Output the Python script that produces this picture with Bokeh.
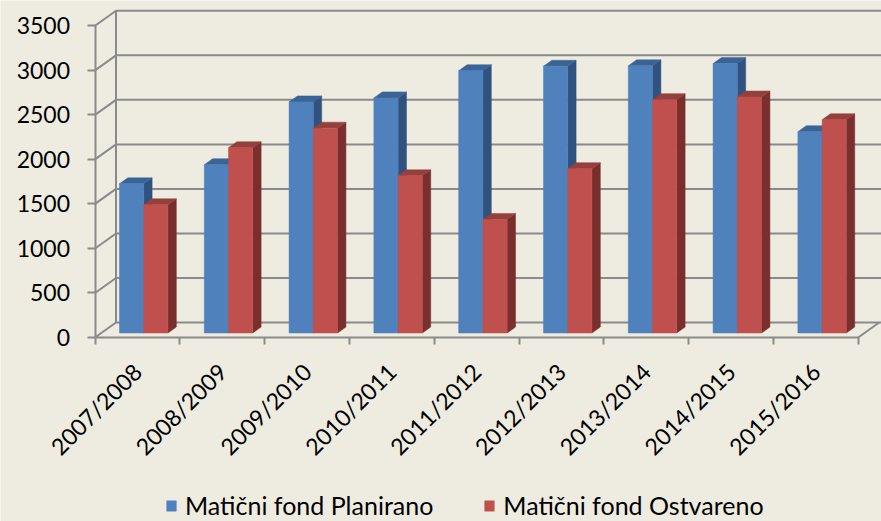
import math
from bokeh.plotting import figure
from bokeh.models import FixedTicker, Legend, LegendItem, Range1d, LinearAxis
from bokeh.embed import file_html
from bokeh.resources import INLINE

# ---------------- data ----------------
categories = ["2007/2008", "2008/2009", "2009/2010", "2010/2011", "2011/2012",
              "2012/2013", "2013/2014", "2014/2015", "2015/2016"]
planirano = [1675, 1890, 2595, 2640, 2945, 2995, 3000, 3025, 2260]
ostvareno = [1440, 2080, 2300, 1765, 1275, 1845, 2620, 2650, 2395]
y_ticks = [0, 500, 1000, 1500, 2000, 2500, 3000, 3500]
series_names = ["Matični fond Planirano", "Matični fond Ostvareno"]

# ---------------- layout / style constants ----------------
W, H = 881, 521
X0_PX = 94.5              # px of front-left corner (x = 0)
Y0_PX = 337.0             # px (from top) of front floor line (value 0)
PX_PER_CAT = 84.8         # px per category on the front plane
PX_PER_UNIT = 0.08906     # px per value unit
DX = 21 / PX_PER_CAT      # depth offset of back wall in x data units
DY = 15 / PX_PER_UNIT     # depth offset of back wall in y data units
D0, D1 = 0.3, 0.7         # bar depth (front, back) fraction
BW = 1 / 3.5              # bar width per category

BG = "#EEECE1"
GRID = "#8A8A8A"
FONT = "Lato"
COLORS = {
    "front": ["#4F81BD", "#C0504D"],
    "side": ["#30527F", "#7B2F2D"],
    "top": ["#3B6496", "#94403D"],
}

n = len(categories)
x_start = -X0_PX / PX_PER_CAT
x_end = (W - X0_PX) / PX_PER_CAT
y_end = Y0_PX / PX_PER_UNIT
y_start = -(H - Y0_PX) / PX_PER_UNIT

p = figure(width=W, height=H, output_backend="svg", toolbar_location=None,
           x_range=Range1d(x_start, x_end), y_range=Range1d(y_start, y_end),
           min_border=0, x_axis_location=None, y_axis_location=None)
p.background_fill_color = BG
p.border_fill_color = BG
p.outline_line_color = None
p.grid.visible = False

# ---------------- 3D walls / grid ----------------
top_tick = y_ticks[-1]
for v in y_ticks:
    p.line([0, DX, n + DX + 1], [v, v + DY, v + DY], line_color=GRID, line_width=2)
p.line([DX, DX], [DY, top_tick + DY], line_color=GRID, line_width=2)
p.line([n, n + DX], [0, DY], line_color=GRID, line_width=2)

# ---------------- bars ----------------
legend_renderers = []
for s, vals in enumerate([planirano, ostvareno]):
    x0s, x1s, tops, bots = [], [], [], []
    side_xs, side_ys, top_xs, top_ys = [], [], [], []
    for i, v in enumerate(vals):
        c = i + 0.5
        x0 = c - BW + s * BW
        x1 = x0 + BW
        x0s.append(x0 + D0 * DX)
        x1s.append(x1 + D0 * DX)
        bots.append(D0 * DY)
        tops.append(v + D0 * DY)
        side_xs.append([x1 + D0 * DX, x1 + D1 * DX, x1 + D1 * DX, x1 + D0 * DX])
        side_ys.append([D0 * DY, D1 * DY, v + D1 * DY, v + D0 * DY])
        top_xs.append([x0 + D0 * DX, x1 + D0 * DX, x1 + D1 * DX, x0 + D1 * DX])
        top_ys.append([v + D0 * DY, v + D0 * DY, v + D1 * DY, v + D1 * DY])
    p.patches(side_xs, side_ys, fill_color=COLORS["side"][s], line_color=COLORS["side"][s], line_width=0.5)
    p.patches(top_xs, top_ys, fill_color=COLORS["top"][s], line_color=COLORS["top"][s], line_width=0.5)
    r = p.quad(left=x0s, right=x1s, bottom=bots, top=tops,
               fill_color=COLORS["front"][s], line_color=COLORS["front"][s], line_width=0.5)
    legend_renderers.append(r)

# ---------------- axes ----------------
yax = LinearAxis(ticker=FixedTicker(ticks=y_ticks), bounds=(0, top_tick), fixed_location=0)
yax.axis_line_color = GRID
yax.axis_line_width = 2
yax.major_tick_line_color = GRID
yax.major_tick_line_width = 2
yax.major_tick_out = 8
yax.major_tick_in = 0
yax.minor_tick_line_color = None
yax.major_label_standoff = 17
yax.major_label_text_font = FONT
yax.major_label_text_font_size = "23px"
yax.major_label_text_color = "#000000"
p.add_layout(yax, "left")

centers = [i + 0.5 for i in range(n)]
xax = LinearAxis(ticker=FixedTicker(ticks=centers, minor_ticks=list(range(n + 1))),
                 bounds=(0, n), fixed_location=0)
xax.major_label_overrides = {c: lab for c, lab in zip(centers, categories)}
xax.axis_line_color = GRID
xax.axis_line_width = 2
xax.major_tick_line_color = None
xax.major_tick_out = 0
xax.major_tick_in = 0
xax.minor_tick_line_color = GRID
xax.minor_tick_line_width = 2
xax.minor_tick_out = 7
xax.minor_tick_in = 0
xax.major_label_orientation = math.pi / 4
xax.major_label_standoff = 23
xax.major_label_text_font = FONT
xax.major_label_text_font_size = "23px"
xax.major_label_text_color = "#000000"
p.add_layout(xax, "below")

# ---------------- legend ----------------
legend = Legend(items=[LegendItem(label=series_names[k], renderers=[legend_renderers[k]])
                       for k in range(2)],
                location=(165, 1), orientation="horizontal")
legend.padding = 0
legend.margin = 0
legend.spacing = 50
legend.glyph_width = 12
legend.glyph_height = 13
legend.label_standoff = 8
legend.label_text_font = FONT
legend.label_text_font_size = "25px"
legend.label_text_color = "#000000"
legend.border_line_color = None
legend.background_fill_alpha = 0
p.add_layout(legend)

open("out.html", "w").write(file_html(p, INLINE))
